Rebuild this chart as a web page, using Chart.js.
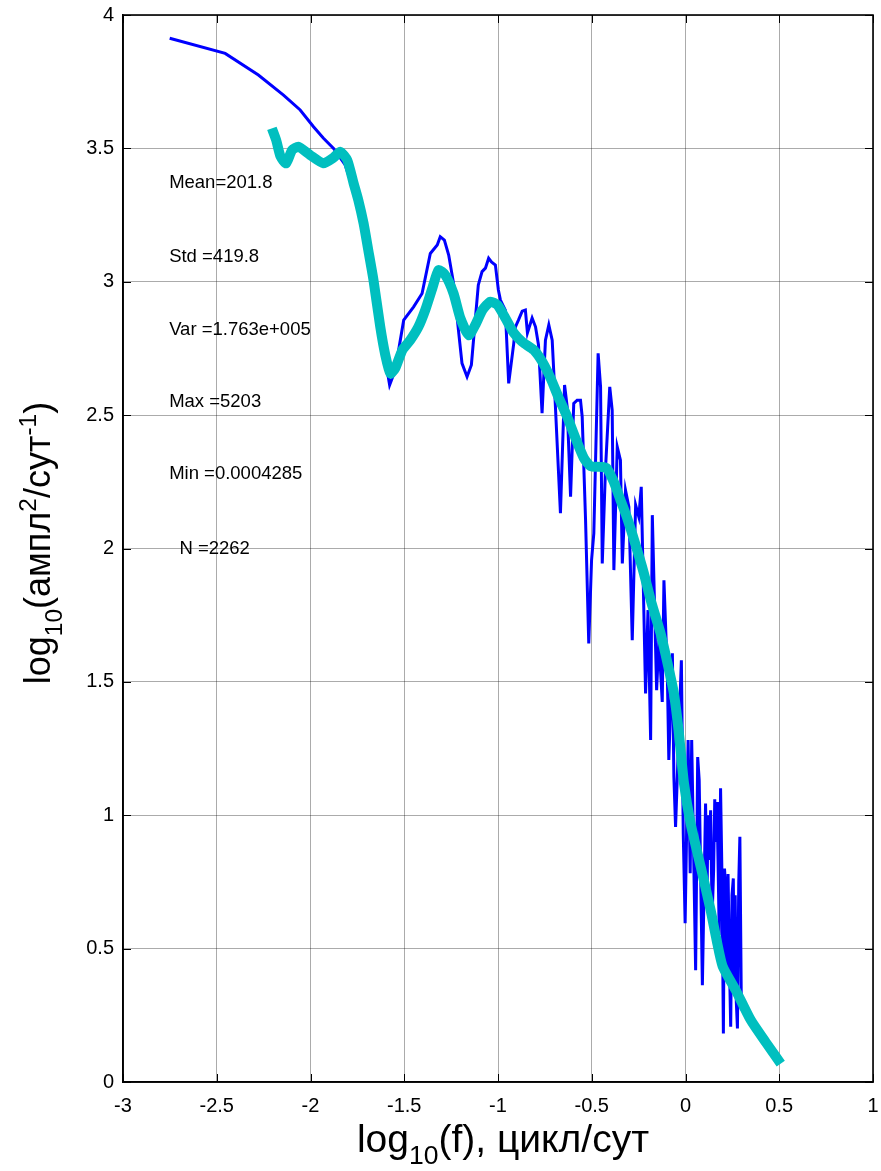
<!DOCTYPE html>
<html>
<head>
<meta charset="utf-8">
<script src="https://cdn.jsdelivr.net/npm/chart.js@4.4.1/dist/chart.umd.min.js"></script>
<style>
  html, body { margin: 0; padding: 0; background: #fff; }
</style>
</head>
<body>
<canvas id="spectrum" width="881" height="1171"></canvas>
<script>
// raw periodogram, log10(f) vs log10(power)
const rawFreq = [-2.751, -2.455, -2.278, -2.144, -2.055, -1.984, -1.932, -1.877, -1.815, -1.761,
  -1.724, -1.692, -1.660, -1.644, -1.623, -1.596, -1.578, -1.548, -1.503, -1.450,
  -1.405, -1.361, -1.324, -1.308, -1.286, -1.263, -1.237, -1.211, -1.192, -1.165,
  -1.142, -1.126, -1.105, -1.085, -1.067, -1.050, -1.035, -1.014, -0.998, -0.987,
  -0.961, -0.943, -0.916, -0.907, -0.891, -0.871, -0.854, -0.843, -0.818, -0.800,
  -0.784, -0.765, -0.747, -0.729, -0.711, -0.703, -0.667, -0.645, -0.631, -0.613,
  -0.596, -0.578, -0.560, -0.551, -0.533, -0.516, -0.501, -0.489, -0.466, -0.453,
  -0.444, -0.427, -0.404, -0.391, -0.382, -0.364, -0.347, -0.337, -0.320, -0.302,
  -0.284, -0.266, -0.249, -0.236, -0.213, -0.200, -0.186, -0.177, -0.154, -0.142,
  -0.124, -0.115, -0.097, -0.089, -0.070, -0.062, -0.053, -0.022, -0.012, -0.002,
  0.014, 0.025, 0.033, 0.054, 0.065, 0.073, 0.090, 0.107, 0.115, 0.120,
  0.125, 0.134, 0.142, 0.150, 0.156, 0.161, 0.168, 0.173, 0.180, 0.187,
  0.195, 0.202, 0.208, 0.214, 0.220, 0.227, 0.234, 0.241, 0.248, 0.255,
  0.260, 0.265, 0.271, 0.277, 0.284, 0.290, 0.298];
const rawPower = [3.913, 3.856, 3.775, 3.700, 3.644, 3.581, 3.539, 3.500, 3.438, 3.325,
  3.194, 3.063, 2.950, 2.905, 2.819, 2.688, 2.613, 2.669, 2.856, 2.906,
  2.956, 3.106, 3.138, 3.169, 3.156, 3.100, 2.994, 2.819, 2.694, 2.644,
  2.688, 2.819, 2.988, 3.038, 3.051, 3.088, 3.074, 3.063, 2.969, 2.931,
  2.894, 2.619, 2.769, 2.831, 2.856, 2.890, 2.894, 2.808, 2.864, 2.831,
  2.763, 2.507, 2.781, 2.838, 2.781, 2.669, 2.132, 2.613, 2.531, 2.194,
  2.544, 2.556, 2.556, 2.494, 2.106, 1.644, 1.956, 2.057, 2.732, 2.606,
  1.944, 2.294, 2.606, 2.519, 1.919, 2.381, 2.331, 1.944, 2.219, 2.156,
  1.656, 2.163, 2.119, 2.231, 1.457, 1.769, 1.282, 2.125, 1.469, 1.656,
  1.425, 1.881, 1.533, 1.207, 1.607, 1.144, 0.956, 1.581, 0.932, 0.595,
  1.282, 0.783, 1.282, 0.419, 1.218, 1.132, 0.363, 1.044, 0.700, 1.000,
  0.832, 1.019, 0.620, 0.794, 1.060, 0.900, 1.050, 0.844, 0.550, 1.101,
  0.750, 0.182, 0.800, 0.732, 0.400, 0.780, 0.457, 0.207, 0.700, 0.763,
  0.350, 0.700, 0.300, 0.201, 0.750, 0.919, 0.269];

// smoothed spectrum
const smoothFreq = [-2.206, -2.183, -2.160, -2.130, -2.098, -2.064, -2.002, -1.931, -1.879, -1.841,
  -1.804, -1.770, -1.745, -1.717, -1.692, -1.664, -1.628, -1.601, -1.574, -1.548,
  -1.510, -1.468, -1.425, -1.388, -1.350, -1.317, -1.281, -1.237, -1.201, -1.156,
  -1.121, -1.083, -1.041, -1.003, -0.961, -0.916, -0.870, -0.809, -0.763, -0.720,
  -0.678, -0.631, -0.587, -0.542, -0.507, -0.453, -0.421, -0.382, -0.347, -0.311,
  -0.266, -0.222, -0.181, -0.133, -0.096, -0.062, -0.037, -0.008, 0.027, 0.081,
  0.134, 0.166, 0.198, 0.268, 0.348, 0.428, 0.508];
const smoothPower = [3.575, 3.531, 3.470, 3.444, 3.494, 3.506, 3.475, 3.444, 3.464, 3.487,
  3.456, 3.369, 3.306, 3.219, 3.119, 3.006, 2.831, 2.725, 2.656, 2.676,
  2.744, 2.781, 2.830, 2.894, 2.976, 3.044, 3.025, 2.956, 2.864, 2.800,
  2.838, 2.894, 2.925, 2.913, 2.864, 2.808, 2.774, 2.744, 2.699, 2.639,
  2.568, 2.494, 2.414, 2.339, 2.309, 2.306, 2.302, 2.249, 2.182, 2.114,
  2.013, 1.907, 1.795, 1.682, 1.570, 1.457, 1.319, 1.119, 0.970, 0.807,
  0.644, 0.532, 0.434, 0.344, 0.232, 0.149, 0.069];

const xTicks = [-3, -2.5, -2, -1.5, -1, -0.5, 0, 0.5, 1];
const yTicks = [0, 0.5, 1, 1.5, 2, 2.5, 3, 3.5, 4];

// statistics printed inside the axes (data coords)
const statLabels = ["Mean=201.8", "Std =419.8", "Var =1.763e+005", "Max =5203", "Min =0.0004285", "  N =2262"];
const statX = -2.754;
const statY = [3.37, 3.094, 2.819, 2.55, 2.279, 2.0];

const FONT = '"Liberation Sans", Arial, Helvetica, sans-serif';

// text pieces: 0 normal, 1 subscript, 2 superscript
const xTitle = [["log", 0], ["10", 1], ["(f), цикл/сут", 0]];
const yTitle = [["log", 0], ["10", 1], ["(ампл", 0], ["2", 2], ["/сут", 0], ["-1", 2], [")", 0]];

function richWidth(ctx, parts, size) {
  let w = 0;
  parts.forEach(([t, k]) => {
    ctx.font = (k ? size * 0.68 : size) + "px " + FONT;
    w += ctx.measureText(t).width;
  });
  return w;
}

function drawRich(ctx, parts, size, x, y) {
  parts.forEach(([t, k]) => {
    const s = k ? size * 0.68 : size;
    ctx.font = s + "px " + FONT;
    let dy = 0;
    if (k === 1) dy = size * 0.32;
    if (k === 2) dy = -size * 0.4;
    ctx.fillText(t, x, y + dy);
    x += ctx.measureText(t).width;
  });
}

const frame = {
  id: "frame",
  afterDraw(chart) {
    const { ctx, chartArea: a, scales } = chart;
    const sx = scales.x, sy = scales.y;
    ctx.save();

    // matlab style inward ticks on all four sides
    ctx.strokeStyle = "#000";
    ctx.lineWidth = 1;
    ctx.beginPath();
    xTicks.forEach(v => {
      const px = Math.round(sx.getPixelForValue(v)) + 0.5;
      ctx.moveTo(px, a.bottom); ctx.lineTo(px, a.bottom - 8);
      ctx.moveTo(px, a.top); ctx.lineTo(px, a.top + 8);
    });
    yTicks.forEach(v => {
      const py = Math.round(sy.getPixelForValue(v)) + 0.5;
      ctx.moveTo(a.left, py); ctx.lineTo(a.left + 8, py);
      ctx.moveTo(a.right, py); ctx.lineTo(a.right - 8, py);
    });
    ctx.stroke();

    ctx.lineWidth = 1.6;
    ctx.strokeRect(a.left, a.top, a.right - a.left, a.bottom - a.top);

    // stats text
    ctx.fillStyle = "#000";
    ctx.font = "18.5px " + FONT;
    ctx.textBaseline = "middle";
    ctx.textAlign = "left";
    statLabels.forEach((s, i) => {
      ctx.fillText(s, sx.getPixelForValue(statX), sy.getPixelForValue(statY[i]));
    });

    // axis titles
    ctx.textBaseline = "alphabetic";
    const xs = 39;
    const xw = richWidth(ctx, xTitle, xs);
    drawRich(ctx, xTitle, xs, 503 - xw / 2, 1152);

    const ys = 36;
    const yw = richWidth(ctx, yTitle, ys);
    ctx.translate(50, 543);
    ctx.rotate(-Math.PI / 2);
    drawRich(ctx, yTitle, ys, -yw / 2, 0);

    ctx.restore();
  }
};

const fmt = v => String(v);

new Chart(document.getElementById("spectrum"), {
  type: "scatter",
  data: {
    datasets: [
      {
        label: "smoothed",
        data: smoothFreq.map((f, i) => ({ x: f, y: smoothPower[i] })),
        showLine: true,
        borderColor: "#00BFBF",
        borderWidth: 10,
        borderJoinStyle: "round",
        tension: 0.2,
        pointRadius: 0,
        order: 0
      },
      {
        label: "periodogram",
        data: rawFreq.map((f, i) => ({ x: f, y: rawPower[i] })),
        showLine: true,
        borderColor: "#0000FF",
        borderWidth: 3,
        pointRadius: 0,
        order: 1
      }
    ]
  },
  options: {
    responsive: false,
    animation: false,
    layout: { padding: { top: 15, right: 8, left: 0, bottom: 0 } },
    plugins: { legend: { display: false }, tooltip: { enabled: false } },
    scales: {
      x: {
        type: "linear",
        min: -3, max: 1,
        afterBuildTicks: s => { s.ticks = xTicks.map(v => ({ value: v })); },
        afterFit: s => { s.height = 89; s.paddingLeft = 0; s.paddingRight = 0; },
        grid: { color: "rgba(0,0,0,0.33)", lineWidth: 1, drawTicks: false },
        border: { color: "#000", width: 1.6 },
        ticks: { color: "#000", padding: 12, font: { family: FONT, size: 20 }, maxRotation: 0, callback: fmt }
      },
      y: {
        type: "linear",
        min: 0, max: 4,
        afterBuildTicks: s => { s.ticks = yTicks.map(v => ({ value: v })); },
        afterFit: s => { s.width = 123; s.paddingTop = 0; s.paddingBottom = 0; },
        grid: { color: "rgba(0,0,0,0.33)", lineWidth: 1, drawTicks: false },
        border: { color: "#000", width: 1.6 },
        ticks: { color: "#000", padding: 9, font: { family: FONT, size: 20 }, callback: fmt }
      }
    }
  },
  plugins: [frame]
});
</script>
</body>
</html>
